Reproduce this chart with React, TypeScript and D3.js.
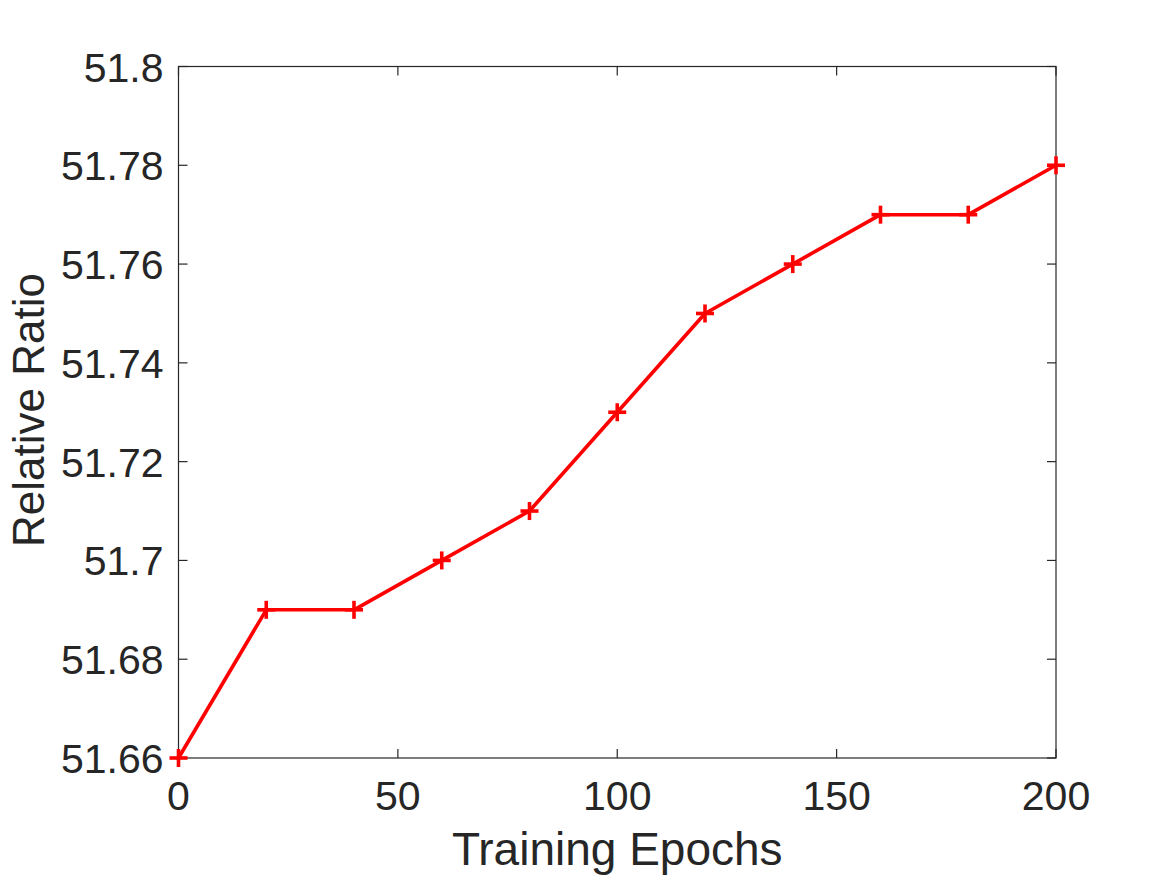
import * as d3 from "d3";
import { useRef, useEffect } from "react";

// values
const epochs = [0, 20, 40, 60, 80, 100, 120, 140, 160, 180, 200];
const ratios = [51.66, 51.69, 51.69, 51.7, 51.71, 51.73, 51.75, 51.76, 51.77, 51.77, 51.78];
const xTicks = [0, 50, 100, 150, 200];
const yTicks = [51.66, 51.68, 51.7, 51.72, 51.74, 51.76, 51.78, 51.8];

const W = 1167;
const H = 875;
const margin = { left: 178.5, right: 1167 - 1056, top: 66.5, bottom: 875 - 758 };
const axisColor = "#262626";
const font = "'Liberation Sans', Arial, Helvetica, sans-serif";

const App = () => {
  const ref = useRef<SVGSVGElement>(null);

  useEffect(() => {
    const svg = d3.select(ref.current);
    svg.selectAll("*").remove();

    const x = d3.scaleLinear().domain([0, 200]).range([margin.left, W - margin.right]);
    const y = d3.scaleLinear().domain([51.66, 51.8]).range([H - margin.bottom, margin.top]);

    const x0 = x.range()[0], x1 = x.range()[1];
    const y0 = y.range()[0], y1 = y.range()[1];
    const tl = 9;

    // frame
    svg.append("rect")
      .attr("x", x0).attr("y", y1)
      .attr("width", x1 - x0).attr("height", y0 - y1)
      .attr("fill", "white")
      .attr("stroke", axisColor)
      .attr("stroke-width", 1.2);

    // inward ticks on all four sides
    const g = svg.append("g").attr("stroke", axisColor).attr("stroke-width", 1.2);
    xTicks.forEach(t => {
      g.append("line").attr("x1", x(t)).attr("x2", x(t)).attr("y1", y0).attr("y2", y0 - tl);
      g.append("line").attr("x1", x(t)).attr("x2", x(t)).attr("y1", y1).attr("y2", y1 + tl);
    });
    yTicks.forEach(t => {
      g.append("line").attr("x1", x0).attr("x2", x0 + tl).attr("y1", y(t)).attr("y2", y(t));
      g.append("line").attr("x1", x1).attr("x2", x1 - tl).attr("y1", y(t)).attr("y2", y(t));
    });

    // tick labels
    svg.append("g").selectAll("text").data(xTicks).join("text")
      .attr("x", d => x(d))
      .attr("y", y0 + 52)
      .attr("text-anchor", "middle")
      .attr("font-family", font)
      .attr("font-size", 41)
      .attr("fill", axisColor)
      .text(d => d3.format("")(d));

    svg.append("g").selectAll("text").data(yTicks).join("text")
      .attr("x", x0 - 15)
      .attr("y", d => y(d) + 15)
      .attr("text-anchor", "end")
      .attr("font-family", font)
      .attr("font-size", 41)
      .attr("fill", axisColor)
      .text(d => d3.format("")(+d.toFixed(2)));

    // axis labels
    svg.append("text")
      .attr("x", (x0 + x1) / 2)
      .attr("y", 865)
      .attr("text-anchor", "middle")
      .attr("font-family", font)
      .attr("font-size", 46)
      .attr("fill", axisColor)
      .text("Training Epochs");

    svg.append("text")
      .attr("transform", `translate(44,410) rotate(-90)`)
      .attr("text-anchor", "middle")
      .attr("font-family", font)
      .attr("font-size", 44)
      .attr("fill", axisColor)
      .text("Relative Ratio");

    // data line
    const data = epochs.map((e, i) => ({ e, v: ratios[i] }));
    const line = d3.line<{ e: number; v: number }>()
      .x(d => x(d.e))
      .y(d => y(d.v));

    svg.append("path")
      .datum(data)
      .attr("fill", "none")
      .attr("stroke", "#ff0000")
      .attr("stroke-width", 3.6)
      .attr("stroke-linejoin", "round")
      .attr("d", line);

    // plus markers
    const ms = 9;
    const mk = svg.append("g").attr("stroke", "#ff0000").attr("stroke-width", 3.6);
    data.forEach(d => {
      mk.append("line")
        .attr("x1", x(d.e) - ms).attr("x2", x(d.e) + ms)
        .attr("y1", y(d.v)).attr("y2", y(d.v));
      mk.append("line")
        .attr("x1", x(d.e)).attr("x2", x(d.e))
        .attr("y1", y(d.v) - ms).attr("y2", y(d.v) + ms);
    });
  }, []);

  return (
    <svg
      ref={ref}
      width={W}
      height={H}
      style={{ position: "absolute", left: 0, top: 0, background: "white" }}
    />
  );
};

export default App;
